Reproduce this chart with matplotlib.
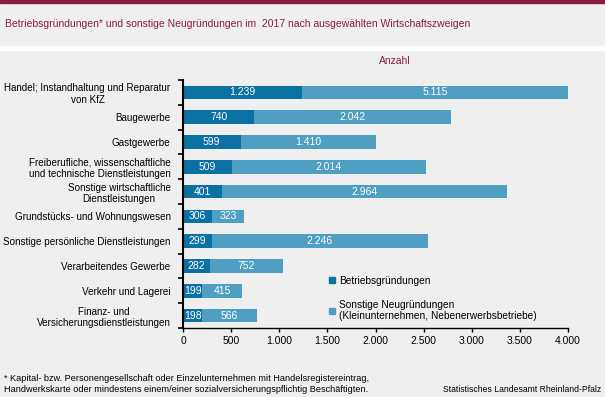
import matplotlib.pyplot as plt
from matplotlib.patches import Patch, Rectangle
from matplotlib.ticker import FuncFormatter

# Daten
kategorien = [
    "Handel; Instandhaltung und Reparatur\nvon KfZ",
    "Baugewerbe",
    "Gastgewerbe",
    "Freiberufliche, wissenschaftliche\nund technische Dienstleistungen",
    "Sonstige wirtschaftliche\nDienstleistungen",
    "Grundstücks- und Wohnungswesen",
    "Sonstige persönliche Dienstleistungen",
    "Verarbeitendes Gewerbe",
    "Verkehr und Lagerei",
    "Finanz- und\nVersicherungsdienstleistungen",
]
betriebe = [1239, 740, 599, 509, 401, 306, 299, 282, 199, 198]
sonstige = [5115, 2042, 1410, 2014, 2964, 323, 2246, 752, 415, 566]
x_ticks = [0, 500, 1000, 1500, 2000, 2500, 3000, 3500, 4000]

dunkel = "#0b70a4"
hell = "#4f9fc2"
rot = "#8b1c3c"
grau = "#eeefee"

plt.rcParams["font.family"] = ["Liberation Sans", "DejaVu Sans"]

W, H = 605, 397
fig = plt.figure(figsize=(W / 100, H / 100), dpi=100)
fig.patch.set_facecolor(grau)

# Kopfzeile
fig.patches.append(Rectangle((0, 1 - 3 / H), 1, 3 / H, transform=fig.transFigure,
                             color=rot, zorder=5))
fig.patches.append(Rectangle((0, 1 - 50 / H), 1, 4 / H, transform=fig.transFigure,
                             color="white", zorder=5))
fig.text(5 / W, 1 - 24 / H, "Betriebsgründungen* und sonstige Neugründungen im  2017 nach ausgewählten Wirtschaftszweigen",
         color=rot, fontsize=7.5, va="center", ha="left")
fig.text(395 / W, 1 - 61 / H, "Anzahl", color=rot, fontsize=7.5, ha="center", va="center")

ax = fig.add_axes([183 / W, 69 / H, 385 / W, 248 / H])
ax.set_facecolor(grau)

y = list(range(len(kategorien)))
b1 = ax.barh(y, betriebe, height=0.55, color=dunkel, label="Betriebsgründungen")
b2 = ax.barh(y, sonstige, left=betriebe, height=0.55, color=hell,
             label="Sonstige Neugründungen\n(Kleinunternehmen, Nebenerwerbsbetriebe)")

fmt = lambda v: f"{v:,.0f}".replace(",", ".")
ax.bar_label(b1, labels=[fmt(v) for v in betriebe], label_type="center",
             color="white", fontsize=7.5)
ax.bar_label(b2, labels=[fmt(v) for v in sonstige], label_type="center",
             color="white", fontsize=7.5)

ax.set_xlim(0, 4000)
ax.set_ylim(len(kategorien) - 0.5, -0.5)
ax.set_xticks(x_ticks)
ax.xaxis.set_major_formatter(FuncFormatter(lambda v, p: fmt(v)))
ax.set_yticks(y)
ax.set_yticklabels(kategorien, fontsize=7.1, ha="right", multialignment="center")
ax.tick_params(axis="y", length=0, pad=9)
ax.set_yticks([i - 0.5 for i in range(len(kategorien) + 1)], minor=True)
ax.tick_params(axis="y", which="minor", length=3.5, width=1.2, color="black")
ax.tick_params(axis="x", length=3, width=1, labelsize=7.5, pad=3)

for s in ["top", "right"]:
    ax.spines[s].set_visible(False)
ax.spines["left"].set_linewidth(1.5)
ax.spines["bottom"].set_linewidth(1)

ax.legend(handles=[Patch(color=dunkel, label=b1.get_label()),
                   Patch(color=hell, label=b2.get_label())],
          loc="upper left", bbox_to_anchor=(0.38, 0.21), frameon=False,
          fontsize=7.3, handlelength=0.55, handleheight=0.55, handletextpad=0.4,
          labelspacing=1.35, borderaxespad=0, borderpad=0)

# Fußnote
fig.text(4 / W, 1 - 384 / H,
         "* Kapital- bzw. Personengesellschaft oder Einzelunternehmen mit Handelsregistereintrag,\n"
         "Handwerkskarte oder mindestens einem/einer sozialversicherungspflichtig Beschäftigten.",
         fontsize=6.6, va="center", ha="left", linespacing=1.2)
fig.text(601 / W, 1 - 389 / H, "Statistisches Landesamt Rheinland-Pfalz",
         fontsize=6.2, va="center", ha="right")

fig.savefig("out.png", dpi=100, facecolor=fig.get_facecolor())
